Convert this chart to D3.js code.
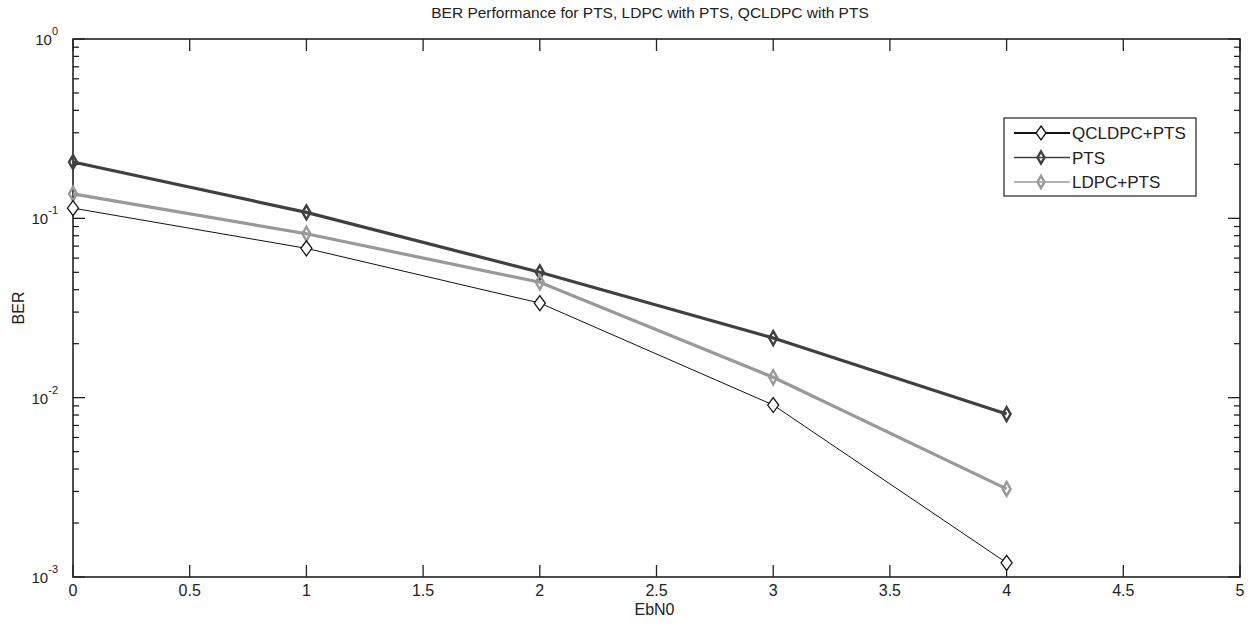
<!DOCTYPE html>
<html>
<head>
<meta charset="utf-8">
<script src="https://cdn.jsdelivr.net/npm/d3@7/dist/d3.min.js"></script>
<style>
  body { margin: 0; background: #fff; }
  text { font-family: "Liberation Sans", Arial, sans-serif; fill: #222; }
</style>
</head>
<body>
<svg id="chart" width="1248" height="624"></svg>
<script>
// values
const ebn0 = [0, 1, 2, 3, 4];
const berQcldpc = [0.114, 0.068, 0.0337, 0.0091, 0.0012];
const berPts = [0.206, 0.108, 0.050, 0.0215, 0.0081];
const berLdpc = [0.137, 0.082, 0.044, 0.013, 0.0031];
const xTicks = [0, 0.5, 1, 1.5, 2, 2.5, 3, 3.5, 4, 4.5, 5];
const yDecades = [-3, -2, -1, 0];
const seriesNames = ["QCLDPC+PTS", "PTS", "LDPC+PTS"];

const series = [
    { name: seriesNames[0], values: berQcldpc, color: "#111", width: 1, mw: 1.3, lw: 2.2 },
    { name: seriesNames[1], values: berPts, color: "#404040", width: 3.2, mw: 2.4, lw: 1.6 },
    { name: seriesNames[2], values: berLdpc, color: "#999", width: 3.2, mw: 2.4, lw: 1.6 }
];

const svg = d3.select("#chart");
const m = { left: 73, top: 39, right: 1240, bottom: 577 };

const x = d3.scaleLinear().domain([0, 5]).range([m.left, m.right]);
const y = d3.scaleLog().domain([1e-3, 1]).range([m.bottom, m.top]);

// frame
svg.append("rect")
    .attr("x", m.left).attr("y", m.top)
    .attr("width", m.right - m.left).attr("height", m.bottom - m.top)
    .attr("fill", "none").attr("stroke", "#222").attr("stroke-width", 1.6);

// x ticks, inside, bottom and top
let gx = svg.append("g");
xTicks.forEach(function (t) {
    gx.append("line").attr("x1", x(t)).attr("x2", x(t))
        .attr("y1", m.bottom).attr("y2", m.bottom - 12).attr("stroke", "#222").attr("stroke-width", 1.3);
    gx.append("line").attr("x1", x(t)).attr("x2", x(t))
        .attr("y1", m.top).attr("y2", m.top + 12).attr("stroke", "#222").attr("stroke-width", 1.3);
    gx.append("text").attr("x", x(t)).attr("y", m.bottom + 19)
        .attr("text-anchor", "middle").style("font-size", "16px")
        .text(d3.format("")(t));
});

// y ticks on log scale
let gy = svg.append("g");
yDecades.forEach(function (e) {
    let v = Math.pow(10, e);
    [m.left, m.right].forEach(function (edge, i) {
        let dir = i === 0 ? 1 : -1;
        gy.append("line").attr("x1", edge).attr("x2", edge + dir * 12)
            .attr("y1", y(v)).attr("y2", y(v)).attr("stroke", "#222").attr("stroke-width", 1.3);
        if (e < 0) {
            for (let k = 2; k <= 9; k++) {
                gy.append("line").attr("x1", edge).attr("x2", edge + dir * 6)
                    .attr("y1", y(v * k)).attr("y2", y(v * k)).attr("stroke", "#222").attr("stroke-width", 1.3);
            }
        }
    });
    let lbl = gy.append("text").attr("x", m.left - 15).attr("y", y(v) + 6)
        .attr("text-anchor", "end").style("font-size", "15px");
    lbl.append("tspan").text("10");
    lbl.append("tspan").attr("dy", -10).style("font-size", "11px").text(e);
});

// title and axis labels
svg.append("text").attr("x", 650).attr("y", 18)
    .attr("text-anchor", "middle").style("font-size", "15.5px")
    .text("BER Performance for PTS, LDPC with PTS, QCLDPC with PTS");
svg.append("text").attr("x", (m.left + m.right) / 2 - 2).attr("y", 615)
    .attr("text-anchor", "middle").style("font-size", "16px").text("EbN0");
svg.append("text").attr("transform", "translate(24," + ((m.top + m.bottom) / 2) + ") rotate(-90)")
    .attr("text-anchor", "middle").style("font-size", "16px").text("BER");

const line = d3.line().x(d => x(d[0])).y(d => y(d[1]));
const diamond = (w, h) => "M0," + (-h) + "L" + w + ",0L0," + h + "L" + (-w) + ",0Z";

// draw PTS and LDPC first, QCLDPC on top
[series[1], series[2], series[0]].forEach(function (s) {
    let pts = ebn0.map((e, i) => [e, s.values[i]]);
    svg.append("path").datum(pts).attr("d", line)
        .attr("fill", "none").attr("stroke", s.color).attr("stroke-width", s.width);
    svg.selectAll(null).data(pts).enter().append("path")
        .attr("transform", d => "translate(" + x(d[0]) + "," + y(d[1]) + ")")
        .attr("d", s.width > 1 ? diamond(4, 7) : diamond(5.5, 7.5))
        .attr("fill", s.width > 1 ? "none" : "#fff")
        .attr("stroke", s.color).attr("stroke-width", s.mw);
});

// legend
let lg = svg.append("g").attr("transform", "translate(1004,118)");
lg.append("rect").attr("width", 192).attr("height", 78)
    .attr("fill", "#fff").attr("stroke", "#222").attr("stroke-width", 1.2);
series.forEach(function (s, i) {
    let yy = 15 + i * 24.5;
    lg.append("line").attr("x1", 10).attr("x2", 66).attr("y1", yy).attr("y2", yy)
        .attr("stroke", s.color).attr("stroke-width", s.lw);
    lg.append("path").attr("transform", "translate(37," + yy + ")")
        .attr("d", s.width > 1 ? diamond(3.5, 6) : diamond(5, 7))
        .attr("fill", s.width > 1 ? "none" : "#fff")
        .attr("stroke", s.color).attr("stroke-width", s.mw);
    lg.append("text").attr("x", 68).attr("y", yy + 6)
        .style("font-size", "17px").text(s.name);
});
</script>
</body>
</html>
